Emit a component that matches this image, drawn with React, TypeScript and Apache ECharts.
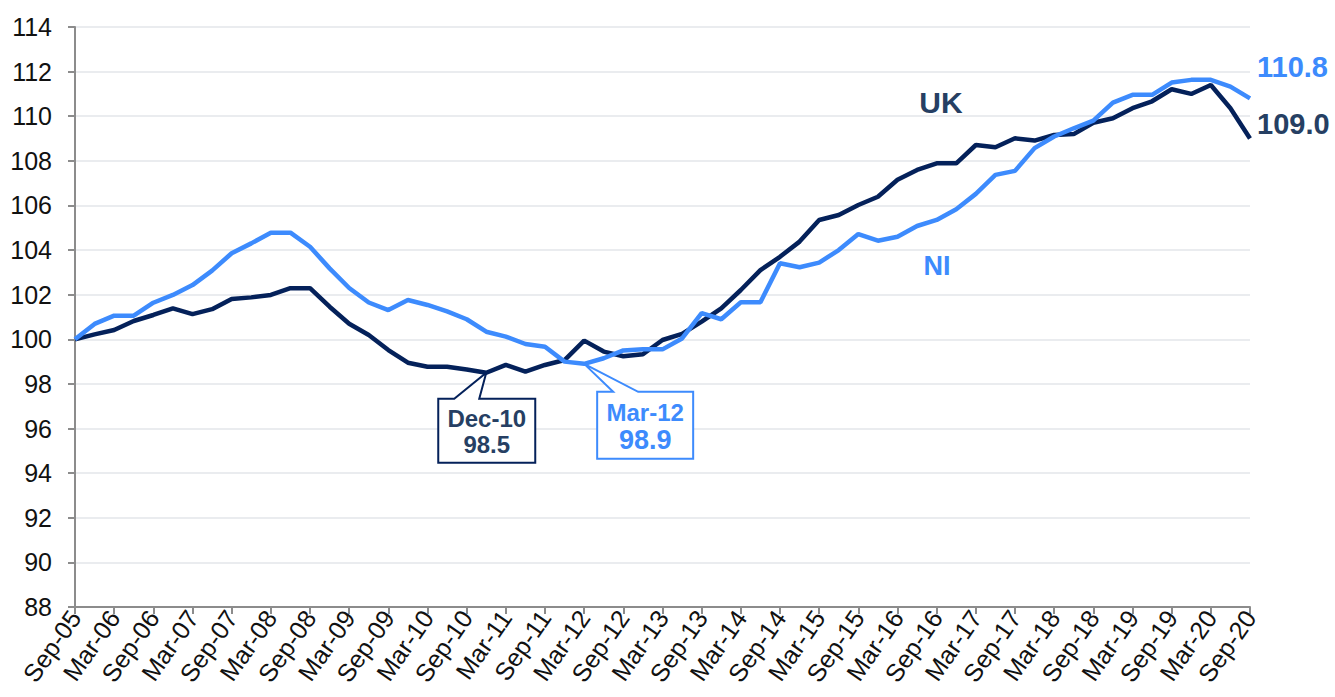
import React, { useEffect, useRef } from "react";
import * as echarts from "echarts";

const categories = [
  "Sep-05", "Dec-05", "Mar-06", "Jun-06", "Sep-06", "Dec-06", "Mar-07", "Jun-07",
  "Sep-07", "Dec-07", "Mar-08", "Jun-08", "Sep-08", "Dec-08", "Mar-09", "Jun-09",
  "Sep-09", "Dec-09", "Mar-10", "Jun-10", "Sep-10", "Dec-10", "Mar-11", "Jun-11",
  "Sep-11", "Dec-11", "Mar-12", "Jun-12", "Sep-12", "Dec-12", "Mar-13", "Jun-13",
  "Sep-13", "Dec-13", "Mar-14", "Jun-14", "Sep-14", "Dec-14", "Mar-15", "Jun-15",
  "Sep-15", "Dec-15", "Mar-16", "Jun-16", "Sep-16", "Dec-16", "Mar-17", "Jun-17",
  "Sep-17", "Dec-17", "Mar-18", "Jun-18", "Sep-18", "Dec-18", "Mar-19", "Jun-19",
  "Sep-19", "Dec-19", "Mar-20", "Jun-20", "Sep-20",
];

const ukValues = [
  100.0, 100.22, 100.42, 100.82, 101.09, 101.39, 101.13, 101.35,
  101.81, 101.88, 101.99, 102.29, 102.29, 101.46, 100.7, 100.19,
  99.52, 98.95, 98.77, 98.77, 98.65, 98.5, 98.85, 98.55,
  98.85, 99.07, 99.94, 99.45, 99.24, 99.33, 99.97, 100.24,
  100.79, 101.39, 102.21, 103.1, 103.7, 104.38, 105.35, 105.57,
  106.02, 106.39, 107.15, 107.59, 107.89, 107.89, 108.71, 108.61,
  109.01, 108.91, 109.16, 109.2, 109.71, 109.91, 110.36, 110.67,
  111.21, 111.0, 111.4, 110.36, 109.0,
];

const niValues = [
  100.0, 100.69, 101.06, 101.06, 101.64, 101.99, 102.43, 103.08,
  103.86, 104.3, 104.78, 104.78, 104.15, 103.18, 102.3, 101.65,
  101.31, 101.76, 101.54, 101.25, 100.9, 100.34, 100.12, 99.79,
  99.67, 99.0, 98.9, 99.15, 99.5, 99.55, 99.55, 100.04,
  101.17, 100.9, 101.66, 101.66, 103.41, 103.23, 103.44, 104.0,
  104.72, 104.42, 104.6, 105.08, 105.35, 105.83, 106.52, 107.37,
  107.55, 108.57, 109.09, 109.46, 109.8, 110.61, 110.96, 110.96,
  111.51, 111.63, 111.63, 111.33, 110.8,
];

const yMin = 88;
const yMax = 114;
const yStep = 2;

const ukLowIndex = 21;
const niLowIndex = 26;

const UK_LINE = "#04215a";
const UK_TEXT = "#263f63";
const NI_COLOR = "#3d8bfd";
const FONT = "Liberation Sans, Arial, sans-serif";

export default function App() {
  const ref = useRef<HTMLDivElement>(null);

  useEffect(() => {
    if (!ref.current) return;
    const chart = echarts.init(ref.current, undefined, { renderer: "svg" });
    const axisColor = "#8c8c8c";
    chart.setOption({
      animation: false,
      backgroundColor: "#ffffff",
      grid: {
        left: 75,
        right: 85,
        top: 27,
        bottom: 90,
        containLabel: false,
        outerBoundsMode: "none",
      },
      xAxis: {
        type: "category",
        data: categories,
        boundaryGap: false,
        axisLine: { show: true, onZero: false, lineStyle: { color: axisColor, width: 2 } },
        axisTick: { show: true, interval: 1, length: 7, lineStyle: { color: axisColor, width: 2 } },
        axisLabel: {
          interval: 1,
          rotate: 55,
          fontSize: 25,
          color: "#111111",
          fontFamily: FONT,
          margin: 6,
        },
        splitLine: { show: false },
      },
      yAxis: {
        type: "value",
        min: yMin,
        max: yMax,
        interval: yStep,
        axisLine: { show: true, lineStyle: { color: axisColor, width: 2 } },
        axisTick: { show: true, length: 7, lineStyle: { color: axisColor, width: 2 } },
        axisLabel: { fontSize: 25, color: "#111111", fontFamily: FONT, margin: 23 },
        splitLine: { show: true, lineStyle: { color: "#e3e6ea", width: 1.5 } },
      },
      series: [
        {
          name: "UK",
          type: "line",
          data: ukValues,
          symbol: "none",
          lineStyle: { color: UK_LINE, width: 4.5 },
          z: 2,
        },
        {
          name: "NI",
          type: "line",
          data: niValues,
          symbol: "none",
          lineStyle: { color: NI_COLOR, width: 4.5 },
          z: 3,
        },
      ],
    });

    const toPx = (idx: number, v: number) =>
      chart.convertToPixel({ gridIndex: 0 }, [idx, v]) as number[];

    const ukLow = toPx(ukLowIndex, ukValues[ukLowIndex]);
    const niLow = toPx(niLowIndex, niValues[niLowIndex]);
    const last = categories.length - 1;
    const ukEnd = toPx(last, ukValues[last]);
    const niEnd = toPx(last, niValues[last]);

    const callout = (
      pt: number[],
      x0: number,
      x1: number,
      y0: number,
      y1: number,
      wL: number,
      wR: number,
      stroke: string
    ) => ({
      type: "polygon",
      z: 10,
      shape: {
        points: [
          [x0, y0],
          [wL, y0],
          [pt[0], pt[1]],
          [wR, y0],
          [x1, y0],
          [x1, y1],
          [x0, y1],
        ],
      },
      style: { fill: "#ffffff", stroke, lineWidth: 2 },
    });

    const txt = (
      x: number,
      y: number,
      text: string,
      size: number,
      fill: string,
      align: string = "center"
    ) => ({
      type: "text",
      z: 11,
      x,
      y,
      style: {
        text,
        fill,
        fontSize: size,
        fontWeight: "bold",
        fontFamily: FONT,
        align,
        verticalAlign: "middle",
      },
    });

    const ukBox = {
      x0: ukLow[0] - 48,
      x1: ukLow[0] + 49,
      y0: ukLow[1] + 26,
      y1: ukLow[1] + 90,
    };
    const niBox = {
      x0: niLow[0] + 13,
      x1: niLow[0] + 109,
      y0: niLow[1] + 28,
      y1: niLow[1] + 95,
    };

    chart.setOption({
      graphic: [
        callout(ukLow, ukBox.x0, ukBox.x1, ukBox.y0, ukBox.y1, ukLow[0] - 32, ukLow[0] - 7, UK_LINE),
        txt((ukBox.x0 + ukBox.x1) / 2, ukBox.y0 + 20, categories[ukLowIndex], 24, UK_TEXT),
        txt((ukBox.x0 + ukBox.x1) / 2, ukBox.y0 + 46, ukValues[ukLowIndex].toFixed(1), 24, UK_TEXT),
        callout(niLow, niBox.x0, niBox.x1, niBox.y0, niBox.y1, niLow[0] + 29, niLow[0] + 54, NI_COLOR),
        txt((niBox.x0 + niBox.x1) / 2, niBox.y0 + 21, categories[niLowIndex], 24, NI_COLOR),
        txt((niBox.x0 + niBox.x1) / 2, niBox.y0 + 48, niValues[niLowIndex].toFixed(1), 27, NI_COLOR),
        txt(niEnd[0] + 7, niEnd[1] - 31, niValues[last].toFixed(1), 29, NI_COLOR, "left"),
        txt(ukEnd[0] + 7, ukEnd[1] - 15, ukValues[last].toFixed(1), 29, UK_TEXT, "left"),
        txt(941, 102, "UK", 30, UK_TEXT),
        txt(937, 266, "NI", 27, NI_COLOR),
      ],
    });

    return () => chart.dispose();
  }, []);

  return (
    <div
      ref={ref}
      style={{ position: "absolute", left: 0, top: 0, width: 1335, height: 697 }}
    />
  );
}
